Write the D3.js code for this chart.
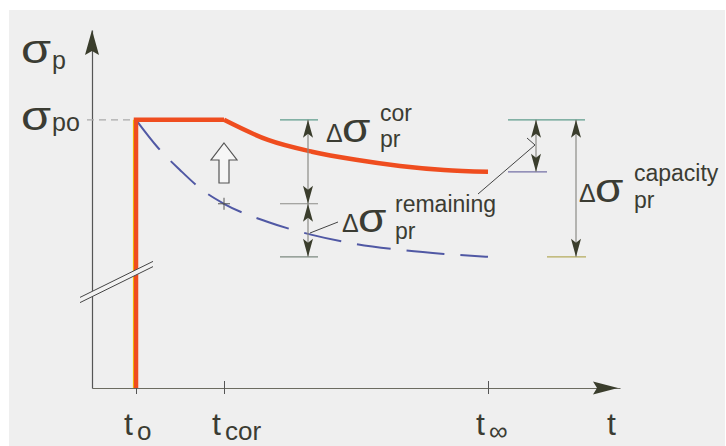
<!DOCTYPE html>
<html>
<head>
<meta charset="utf-8">
<script src="https://cdn.jsdelivr.net/npm/d3@7"></script>
<style>
  html, body { margin: 0; padding: 0; background: #fff; }
  svg { display: block; font-family: "Liberation Sans", Arial, sans-serif; }
</style>
</head>
<body>
<svg id="chart" width="726" height="446"></svg>
<script>
// time marks on the t axis (arbitrary units)
const tMarks = [1, 3, 9];
const tSubs = ["o", "cor", "\u221E"];
const tEnd = 12;

// prestress level (relative units)
const sigmaPo = 100;
const sigmaTop = 133.5;

// corrected prestress (red), from t_cor to t_inf
const tRed = [3, 4, 5, 6, 7, 8, 9];
const sRed = [100, 92.5, 88.1, 85.1, 82.8, 81.3, 80.6];

// original prestress loss (blue dashed), from t_o to t_inf
const tBlue = [1, 1.5, 2, 2.5, 3, 4, 5, 6, 7, 8, 9];
const sBlue = [100, 89.6, 81.3, 73.9, 68.7, 61.9, 57.1, 53.7, 51.5, 50, 48.9];

const svg = d3.select("#chart");
const ink = "#3b3c33";
const arrowInk = "#3a3d2c";

// paper background with a white margin at left/top
svg.append("rect").attr("width", 726).attr("height", 446).attr("fill", "#fff");
svg.append("rect").attr("x", 9).attr("y", 10).attr("width", 716).attr("height", 436).attr("fill", "#efefef");

const x = d3.scaleLinear().domain([0, tEnd]).range([92, 620]);
const y = d3.scaleLinear().domain([0, sigmaTop]).range([388, 30]);

// ---- axes ----
const xAxis = svg.append("g")
  .attr("transform", `translate(0,${y(0)})`)
  .call(d3.axisBottom(x).tickValues(tMarks).tickSize(6).tickSizeOuter(0).tickFormat(() => ""));
xAxis.select(".domain").attr("stroke", "#6b6b60").attr("stroke-width", 1.2);
xAxis.selectAll(".tick line").attr("y1", -7).attr("y2", 6).attr("stroke", "#555").attr("stroke-width", 1);

const yAxis = svg.append("g")
  .attr("transform", `translate(${x(0)},0)`)
  .call(d3.axisLeft(y).tickValues([]).tickSizeOuter(0));
yAxis.select(".domain").attr("stroke", "#555").attr("stroke-width", 1.2);

// axis arrowheads
const xTip = x(tEnd) - 2, yTip = y(sigmaTop);
svg.append("path")
  .attr("d", `M${xTip},${y(0)} L${xTip - 25},${y(0) - 6.5} L${xTip - 21},${y(0)} L${xTip - 25},${y(0) + 6.5}Z`)
  .attr("fill", arrowInk);
svg.append("path")
  .attr("d", `M${x(0)},${yTip} L${x(0) - 7},${yTip + 25} L${x(0)},${yTip + 21} L${x(0) + 7},${yTip + 25}Z`)
  .attr("fill", arrowInk);

// dashed guide at sigma_po
svg.append("line")
  .attr("x1", x(0) - 5).attr("x2", x(tMarks[0]))
  .attr("y1", y(sigmaPo)).attr("y2", y(sigmaPo))
  .attr("stroke", "#aaa").attr("stroke-width", 1.2).attr("stroke-dasharray", "7,5");

// ---- blue dashed loss curve ----
const line = d3.line().x(d => x(d[0])).y(d => y(d[1])).curve(d3.curveMonotoneX);
svg.append("path")
  .datum(tBlue.map((t, i) => [t, sBlue[i]]))
  .attr("d", line)
  .attr("fill", "none")
  .attr("stroke", "#5058a4")
  .attr("stroke-width", 2)
  .attr("stroke-dasharray", "38,16,34,16");

// plus marker at t_cor on the blue curve
const pX = x(tMarks[1]), pY = y(sBlue[tBlue.indexOf(tMarks[1])]);
svg.append("path")
  .attr("d", `M${pX - 6},${pY} H${pX + 6} M${pX},${pY - 6} V${pY + 6}`)
  .attr("stroke", "#555").attr("stroke-width", 1);

// ---- red prestress path ----
svg.append("line")
  .attr("x1", x(tMarks[0]) - 2.5).attr("x2", x(tMarks[0]) - 2.5)
  .attr("y1", y(0)).attr("y2", y(sigmaPo))
  .attr("stroke", "#f5d200").attr("stroke-width", 1.2);
svg.append("path")
  .attr("d", `M${x(tMarks[0])},${y(0)} L${x(tMarks[0])},${y(sigmaPo)} L${x(tRed[0])},${y(sigmaPo)}`)
  .attr("fill", "none").attr("stroke", "#ef4d1f").attr("stroke-width", 4.5)
  .attr("stroke-linejoin", "miter");
svg.append("path")
  .datum(tRed.map((t, i) => [t, sRed[i]]))
  .attr("d", line)
  .attr("fill", "none").attr("stroke", "#ef4d1f").attr("stroke-width", 4.5)
  .attr("stroke-linecap", "butt");

// axis break marks
const brk = [[80, 300], [153, 264]];
svg.append("line")
  .attr("x1", brk[0][0]).attr("y1", brk[0][1]).attr("x2", brk[1][0]).attr("y2", brk[1][1])
  .attr("stroke", "#f2f2f2").attr("stroke-width", 5);
[-2.6, 2.6].forEach(o => {
  svg.append("line")
    .attr("x1", brk[0][0]).attr("y1", brk[0][1] + o).attr("x2", brk[1][0]).attr("y2", brk[1][1] + o)
    .attr("stroke", "#444").attr("stroke-width", 1);
});

// hollow up arrow between curves
const ua = x(tMarks[1]);
svg.append("path")
  .attr("d", `M${ua},143 L${ua + 13},160 L${ua + 5},160 L${ua + 5},183 L${ua - 5},183 L${ua - 5},160 L${ua - 13},160Z`)
  .attr("fill", "#f6f6f6").attr("stroke", "#555").attr("stroke-width", 1.2);

// ---- dimension lines ----
function head(cx, tipY, dir) {
  svg.append("path")
    .attr("d", `M${cx},${tipY} L${cx - 5},${tipY + dir * 18} L${cx},${tipY + dir * 14} L${cx + 5},${tipY + dir * 18}Z`)
    .attr("fill", arrowInk);
}
function dim(cx, y1, y2) {
  svg.append("line").attr("x1", cx).attr("x2", cx).attr("y1", y1).attr("y2", y2)
    .attr("stroke", "#8a8a85").attr("stroke-width", 1.2);
  head(cx, y1, 1);
  head(cx, y2, -1);
}
function tick(xa, xb, yy, col) {
  svg.append("line").attr("x1", xa).attr("x2", xb).attr("y1", yy).attr("y2", yy)
    .attr("stroke", col).attr("stroke-width", 1.2);
}

const yPo = y(sigmaPo);
const yBlueCor = y(sBlue[tBlue.indexOf(tMarks[1])]);
const yBlueInf = y(sBlue[sBlue.length - 1]);
const yRedInf = y(sRed[sRed.length - 1]);

// correction / remaining
tick(280, 318, yPo, "#5f9c8c");
tick(280, 318, yBlueCor, "#8c8c88");
tick(280, 318, yBlueInf, "#7d8a80");
dim(308, yPo, yBlueCor);
dim(308, yBlueCor, yBlueInf);

// capacity block at the right
tick(508, 585, yPo, "#5f9c8c");
tick(508, 547, yRedInf, "#7470a6");
tick(547, 586, yBlueInf, "#b5ab5c");
dim(536, yPo, yRedInf);
dim(576, yPo, yBlueInf);

// leader lines
svg.append("line").attr("x1", 338).attr("y1", 222).attr("x2", 310).attr("y2", 233)
  .attr("stroke", "#444").attr("stroke-width", 1);
svg.append("path").attr("d", "M478,194 L535,145 L527,138")
  .attr("fill", "none").attr("stroke", "#444").attr("stroke-width", 1);

// ---- labels ----
function txt(tx, ty, size, s, sx) {
  svg.append("text")
    .attr("transform", `translate(${tx},${ty}) scale(${sx || 1},1)`)
    .attr("font-size", size).attr("fill", ink).text(s);
}
const SIG = "\u03C3", DEL = "\u0394";

// axis titles
txt(21, 63, 40, SIG, 1.22); txt(52, 69, 25, "p");
txt(21, 130, 40, SIG, 1.22); txt(52, 131, 25, "po");
tMarks.forEach((t, i) => {
  txt(x(t) - 12, 435, 32, "t");
  txt(x(t) + 1, 440, 26, tSubs[i]);
});
txt(x(tEnd) - 13, 435, 32, "t");

// delta labels
txt(326, 142, 25, DEL); txt(342, 142, 40, SIG, 1.15);
txt(380, 121, 23, "cor"); txt(380, 147, 23, "pr");
txt(342, 232, 25, DEL); txt(358, 232, 40, SIG, 1.15);
txt(395, 212, 23, "remaining"); txt(395, 239, 23, "pr");
txt(579, 202, 25, DEL); txt(595, 202, 40, SIG, 1.15);
txt(634, 181, 23, "capacity"); txt(634, 208, 23, "pr");
</script>
</body>
</html>
